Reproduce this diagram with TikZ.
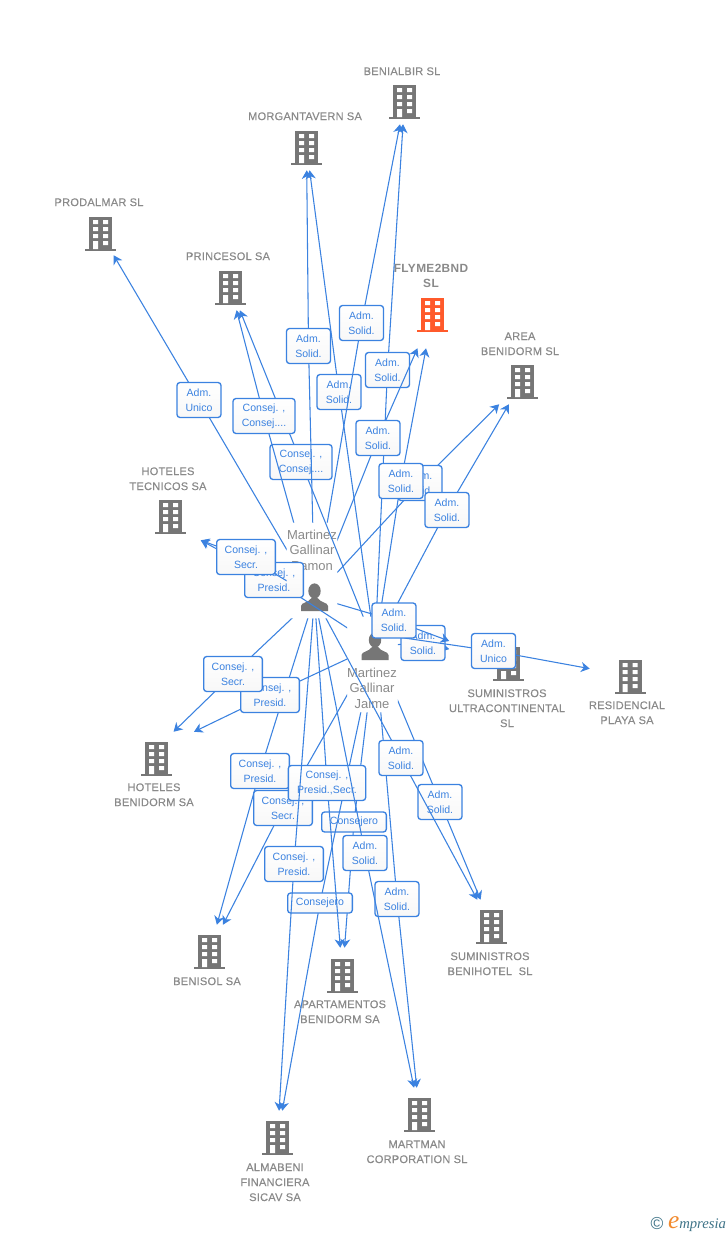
\documentclass[tikz,border=0pt]{standalone}
\usepackage{fontspec}
\usetikzlibrary{arrows.meta}
\setmainfont{Liberation Sans}
\newfontfamily\firmfont[LetterSpace=2,FakeBold=0.25]{Liberation Sans}
\newfontfamily\flymefont[LetterSpace=3]{Liberation Sans}
\newfontfamily\logofont[Ligatures=NoCommon]{Liberation Serif}
\definecolor{linkblue}{HTML}{3B82E0}
\definecolor{iconfill}{HTML}{767676}
\definecolor{mainfill}{HTML}{FF5A2B}
\definecolor{namegray}{HTML}{8A8A8A}
\definecolor{logoteal}{HTML}{3F7488}
\definecolor{logoorange}{HTML}{F28A2E}

\tikzset{
  link/.style={draw=linkblue, line width=0.8pt, -{Stealth[length=6.5pt,width=7.5pt,inset=2pt]}},
  tag/.style={draw=linkblue, line width=1pt, rounded corners=2.2pt, top color=white, bottom color=black!3,
    text=linkblue, align=center, inner sep=0pt, minimum width=33pt, minimum height=26.2pt,
    font=\fontsize{7.9}{11.25}\selectfont},
  ctag/.style={tag, minimum width=44pt},
  ltag/.style={tag, minimum width=46.5pt},
  ptag/.style={tag, minimum width=58pt},
  stag/.style={tag, minimum width=48.5pt, minimum height=15pt},
  firmname/.style={text=namegray, align=center, inner sep=0pt, yshift=-0.2pt, font=\firmfont\fontsize{8.3}{11.25}\selectfont},
  persname/.style={text=namegray, align=center, inner sep=0pt, font=\fontsize{9.75}{11.6}\selectfont},
  persbox/.style={inner sep=0pt, minimum width=37.5pt, minimum height=71.5pt},
  iconbox/.style={inner sep=0pt, minimum size=18pt},
  bldg/.pic={
    \fill (-11.5,-16) rectangle (11.5,16);
    \fill (-15.5,16) rectangle (15.5,18);
    \fill[white] (-7.5,-13) rectangle (-2.5,-9) (2.5,-13) rectangle (7.5,-9)
      (-7.5,-6) rectangle (-2.5,-2) (2.5,-6) rectangle (7.5,-2)
      (-7.5,1) rectangle (-2.5,5) (2.5,1) rectangle (7.5,5)
      (-7.5,8) rectangle (-2.5,16) (2.5,8) rectangle (7.5,12);
  },
  pers/.pic={
    \fill (0,-6) ellipse [x radius=6.2, y radius=7.6];
    \fill (-13.5,14) -- (-13.5,9) .. controls (-13,5) and (-6,6) .. (-3,1) -- (3,1)
      .. controls (6,6) and (13,5) .. (13.5,9) -- (13.5,14) -- cycle;
  }
}

% icon box: name, centre, half width, half height
\newcommand{\firm}[5][iconfill]{
  \node[inner sep=0pt, minimum width=#4*1.5pt, minimum height=#5*1.5pt] (#2) at (#3) {};
  \pic[color=#1] at (#2) {bldg};
}
% person to target through a tag, the line is cut off inside the person's box
\newcommand{\link}[7][]{
  \begin{scope}
    \clip (0,0) -- (728,0) -- (728,1235) -- (0,1235) -- cycle
      (#2.north west) -- (#2.south west) -- (#2.south east) -- (#2.north east) -- cycle;
    \coordinate (#3) at (#4);
    \draw[link] (#2icon#1) -- (#3) -- (#7);
  \end{scope}
  \node[#5] (#3) at (#4) {#6};
}

\begin{document}
\begin{tikzpicture}[x=0.75pt,y=-0.75pt]
\fill[white] (0,0) rectangle (728,1235);
\useasboundingbox (0,0) rectangle (728,1235);

% companies
\firm{benialbir}{404.5,101}{40}{23}
\firm{morgantavern}{306.5,147}{40}{23}
\firm{prodalmar}{100.5,233}{40}{22}
\firm{princesol}{230.5,287}{40}{23}
\firm[mainfill]{flyme}{432.5,314}{40}{34}
\firm{area}{522.5,381}{40}{23}
\firm{tecnicos}{170.5,516}{30}{24}
\firm{ultracont}{508.5,663}{59}{60}
\firm{residencial}{630,676}{40}{40}
\firm{hbenidorm}{156.5,758}{40}{26}
\firm{benisol}{209.5,951}{40}{26}
\firm{apartamentos}{342.5,975}{40}{27}
\firm{benihotel}{491.5,926}{40}{26}
\firm{martman}{419.5,1114}{40}{26}
\firm{almabeni}{277.5,1137}{40}{26}

\node[firmname] (benialbirtxt) at (402,71) {BENIALBIR SL};
\node[firmname] (morgantaverntxt) at (305,116) {MORGANTAVERN SA};
\node[firmname] (prodalmartxt) at (99,202) {PRODALMAR SL};
\node[firmname] (princesoltxt) at (228,256) {PRINCESOL SA};
\node[firmname, font=\flymefont\bfseries\fontsize{8.9}{11.25}\selectfont] (flymetxt) at (431,275.5) {FLYME2BND\\SL};
\node[firmname] (areatxt) at (520,343.5) {AREA\\BENIDORM SL};
\node[firmname] (tecnicostxt) at (168,478.5) {HOTELES\\TECNICOS SA};
\node[firmname] (ultraconttxt) at (507,708) {SUMINISTROS\\ULTRACONTINENTAL\\SL};
\node[firmname] (residencialtxt) at (627,712.5) {RESIDENCIAL\\PLAYA SA};
\node[firmname] (hbenidormtxt) at (154,794.5) {HOTELES\\BENIDORM SA};
\node[firmname] (benisoltxt) at (207,981) {BENISOL SA};
\node[firmname] (apartamentostxt) at (340,1011.5) {APARTAMENTOS\\BENIDORM SA};
\node[firmname] (benihoteltxt) at (490,963.5) {SUMINISTROS\\BENIHOTEL\ \ SL};
\node[firmname] (martmantxt) at (417,1151.5) {MARTMAN\\CORPORATION SL};
\node[firmname] (almabenitxt) at (275,1182) {ALMABENI\\FINANCIERA\\SICAV SA};

% persons
\node[persbox] (ramon) at (312,570.5) {};
\node[iconbox] (ramonicon) at (314.5,597) {};
\pic[color=iconfill] at (ramonicon) {pers};
\node[persname] (ramontxt) at (312,550) {Martinez\\Gallinar\\Ramon};
\node[persbox] (jaime) at (372.5,664.5) {};
\node[iconbox] (jaimeicon) at (375,646) {};
\pic[color=iconfill] at (jaimeicon) {pers};
\node[persname] (jaimetxt) at (372,688) {Martinez\\Gallinar\\Jaime};

% links, the order gives the overlaps
\link{ramon}{tagarea}{420,483}{tag}{Adm.\\Solid.}{area}
\link{ramon}{tagbenisol}{260,771}{ctag}{Consej. ,\\Presid.}{benisol}

\link{jaime}{jagprincesol}{301,462}{ltag}{Consej. ,\\Consej....}{princesol}
\link{jaime}{jagmorgan}{339,392}{tag}{Adm.\\Solid.}{morgantavern}
\link{jaime}{jagbenialbir}{387.5,370}{tag}{Adm.\\Solid.}{benialbir}
\link{jaime}{jagflyme}{401,481}{tag}{Adm.\\Solid.}{flyme}
\link{jaime}{jagarea}{447,510}{tag}{Adm.\\Solid.}{area}
\link{jaime}{jagtecnicos}{274,580}{ctag}{Consej. ,\\Presid.}{tecnicos.south east}
\link{jaime}{jaghbenidorm}{270,695}{ctag}{Consej. ,\\Presid.}{hbenidorm.35}
\link{jaime}{jagbenisol}{283,808}{ctag}{Consej. ,\\Secr.}{benisol}
\link{jaime}{jagapart}{354,822}{stag}{Consejero}{apartamentos}
\link{jaime}{jagalmabeni}{320,903}{stag}{Consejero}{almabeni}
\link{jaime}{jagmartman}{397,899}{tag}{Adm.\\Solid.}{martman}
\link{jaime}{jagbenihotel}{440,802}{tag}{Adm.\\Solid.}{benihotel}
\link{jaime}{jagultra}{423,643}{tag}{Adm.\\Solid.}{ultracont}
\link[.north]{jaime}{jagresidencial}{493.5,651}{tag}{Adm.\\Unico}{residencial}

\link{ramon}{tagprincesol}{264,416}{ltag}{Consej. ,\\Consej....}{princesol}
\link{ramon}{tagprodalmar}{199,400}{tag}{Adm.\\Unico}{prodalmar}
\link{ramon}{tagmorgan}{308.5,346}{tag}{Adm.\\Solid.}{morgantavern}
\link{ramon}{tagbenialbir}{361.5,323}{tag}{Adm.\\Solid.}{benialbir}
\link{ramon}{tagflyme}{378,438}{tag}{Adm.\\Solid.}{flyme}
\link{ramon}{tagtecnicos}{246,557}{ctag}{Consej. ,\\Secr.}{tecnicos.south east}
\link{ramon}{taghbenidorm}{233,674}{ctag}{Consej. ,\\Secr.}{hbenidorm.57}
\link{ramon}{tagapart}{327,783}{ptag}{Consej. ,\\Presid.,Secr.}{apartamentos}
\link{ramon}{tagalmabeni}{294,864}{ctag}{Consej. ,\\Presid.}{almabeni}
\link{ramon}{tagmartman}{365,853}{tag}{Adm.\\Solid.}{martman}
\link{ramon}{tagbenihotel}{401,758}{tag}{Adm.\\Solid.}{benihotel}
\link{ramon}{tagultra}{394,620.5}{tag}{Adm.\\Solid.}{ultracont}

% logo
\node[text=logoteal, inner sep=0pt, font=\fontsize{13}{13}\selectfont] (copyr) at (657,1224) {\textcopyright};
\node[text=logoteal, inner sep=0pt, font=\logofont\itshape\fontsize{11}{12}\selectfont] (logo) at (697,1224) {\textcolor{logoorange}{\fontsize{19}{12}\selectfont e}mpresia};
\end{tikzpicture}
\end{document}
